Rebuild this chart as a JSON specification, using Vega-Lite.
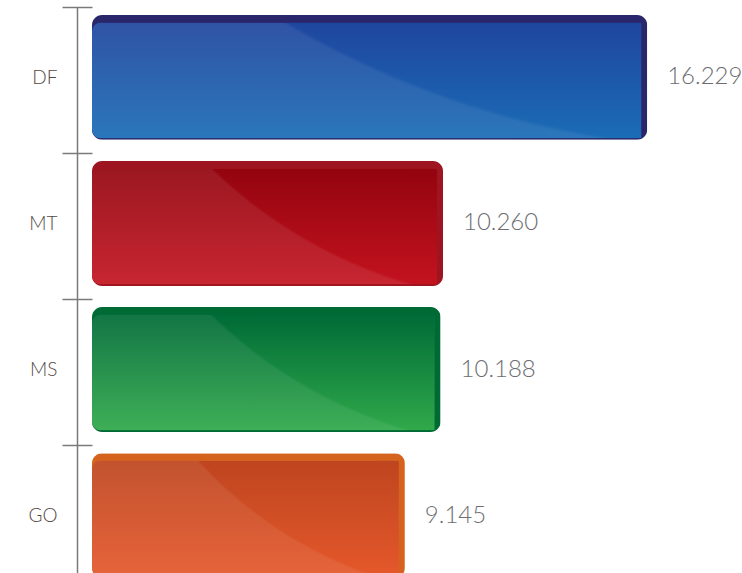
{
  "$schema": "https://vega.github.io/schema/vega-lite/v6.json",
  "width": 650,
  "height": 571,
  "autosize": {"type": "none"},
  "padding": {"left": 92, "top": 7, "right": 0, "bottom": 0},
  "background": "white",
  "config": {"view": {"stroke": null}},
  "data": {
    "values": [
      {"cat": "DF", "value": 16.229},
      {"cat": "MT", "value": 10.26},
      {"cat": "MS", "value": 10.188},
      {"cat": "GO", "value": 9.145}
    ]
  },
  "resolve": {"scale": {"y": "shared"}, "axis": {"y": "independent"}},
  "encoding": {
    "y": {
      "field": "cat",
      "type": "nominal",
      "sort": null,
      "title": null,
      "scale": {"paddingInner": 0.145, "paddingOuter": 0.0274, "align": 1},
      "axis": null
    },
    "x": {
      "field": "value",
      "type": "quantitative",
      "scale": {"domain": [0, 19]},
      "axis": null
    }
  },
  "layer": [
    {
      "mark": {"type": "bar", "cornerRadius": 10},
      "encoding": {
        "y": {
          "field": "cat", "type": "nominal", "sort": null, "title": null,
          "axis": {
            "orient": "left",
            "offset": 0,
            "domain": false,
            "bandPosition": 0,
            "tickOffset": -8,
            "labelOffset": 8,
            "tickSize": 30,
            "tickColor": "#7a7a7a",
            "tickWidth": 1.5,
            "labelPadding": 5,
            "labelFont": "Lato",
            "labelFontSize": 19,
            "labelFontWeight": 300,
            "labelColor": "#54473f"
          }
        },
        "color": {
          "field": "cat",
          "type": "nominal",
          "scale": {"domain": ["DF", "MT", "MS", "GO"], "range": ["#29266b", "#9e1420", "#006a35", "#d5631e"]},
          "legend": null
        }
      }
    },
    {
      "transform": [{"filter": "datum.cat === 'DF'"}],
      "mark": {"type": "bar", "cornerRadius": 9, "xOffset": -6, "x2Offset": 2, "height": 116, "yOffset": 3,
        "color": {"gradient": "linear", "x1": 0, "y1": 0, "x2": 0, "y2": 1,
          "stops": [{"offset": 0, "color": "#1f469f"}, {"offset": 1, "color": "#1b6cb6"}]}}
    },
    {
      "transform": [{"filter": "datum.cat === 'DF'"}],
      "mark": {"type": "bar", "cornerRadius": 9, "xOffset": -6, "x2Offset": 2, "height": 116, "yOffset": 3,
        "color": {"gradient": "radial", "x1": 1.196, "y1": -1.02, "r1": 0, "x2": 1.196, "y2": -1.02, "r2": 1.648,
          "stops": [
            {"offset": 0, "color": "rgba(255,255,255,0)"},
            {"offset": 0.996, "color": "rgba(255,255,255,0)"},
            {"offset": 1, "color": "rgba(255,255,255,0.07)"}
          ]}}
    },
    {
      "transform": [{"filter": "datum.cat === 'MT'"}],
      "mark": {"type": "bar", "cornerRadius": 9, "xOffset": -6, "x2Offset": 2, "height": 116, "yOffset": 3,
        "color": {"gradient": "linear", "x1": 0, "y1": 0, "x2": 0, "y2": 1,
          "stops": [{"offset": 0, "color": "#93040e"}, {"offset": 1, "color": "#c3131f"}]}}
    },
    {
      "transform": [{"filter": "datum.cat === 'MT'"}],
      "mark": {"type": "bar", "cornerRadius": 9, "xOffset": -6, "x2Offset": 2, "height": 116, "yOffset": 3,
        "color": {"gradient": "radial", "x1": 1.304, "y1": -0.639, "r1": 0, "x2": 1.304, "y2": -0.639, "r2": 1.361,
          "stops": [
            {"offset": 0, "color": "rgba(255,255,255,0)"},
            {"offset": 0.995, "color": "rgba(255,255,255,0)"},
            {"offset": 1, "color": "rgba(255,255,255,0.08)"}
          ]}}
    },
    {
      "transform": [{"filter": "datum.cat === 'MS'"}],
      "mark": {"type": "bar", "cornerRadius": 9, "xOffset": -6, "x2Offset": 2, "height": 116, "yOffset": 3,
        "color": {"gradient": "linear", "x1": 0, "y1": 0, "x2": 0, "y2": 1,
          "stops": [{"offset": 0, "color": "#006b37"}, {"offset": 1, "color": "#30a94a"}]}}
    },
    {
      "transform": [{"filter": "datum.cat === 'MS'"}],
      "mark": {"type": "bar", "cornerRadius": 9, "xOffset": -6, "x2Offset": 2, "height": 116, "yOffset": 3,
        "color": {"gradient": "radial", "x1": 1.307, "y1": -0.635, "r1": 0, "x2": 1.307, "y2": -0.635, "r2": 1.359,
          "stops": [
            {"offset": 0, "color": "rgba(255,255,255,0)"},
            {"offset": 0.995, "color": "rgba(255,255,255,0)"},
            {"offset": 1, "color": "rgba(255,255,255,0.07)"}
          ]}}
    },
    {
      "transform": [{"filter": "datum.cat === 'GO'"}],
      "mark": {"type": "bar", "cornerRadius": 9, "xOffset": -6, "x2Offset": 2, "height": 116, "yOffset": 3,
        "color": {"gradient": "linear", "x1": 0, "y1": 0, "x2": 0, "y2": 1,
          "stops": [{"offset": 0, "color": "#be451f"}, {"offset": 1, "color": "#e5582b"}]}}
    },
    {
      "transform": [{"filter": "datum.cat === 'GO'"}],
      "mark": {"type": "bar", "cornerRadius": 9, "xOffset": -6, "x2Offset": 2, "height": 116, "yOffset": 3,
        "color": {"gradient": "radial", "x1": 1.351, "y1": -0.585, "r1": 0, "x2": 1.351, "y2": -0.585, "r2": 1.343,
          "stops": [
            {"offset": 0, "color": "rgba(255,255,255,0)"},
            {"offset": 0.995, "color": "rgba(255,255,255,0)"},
            {"offset": 1, "color": "rgba(255,255,255,0.07)"}
          ]}}
    },
    {
      "mark": {"type": "text", "align": "left", "baseline": "middle", "dx": 20, "fontSize": 24, "font": "Lato", "fontWeight": 300, "color": "#6d6e71"},
      "encoding": {
        "y": {
          "field": "cat", "type": "nominal", "sort": null, "title": null,
          "axis": {
            "orient": "left",
            "offset": 15,
            "domain": true,
            "domainColor": "#7a7a7a",
            "domainWidth": 1.5,
            "ticks": false,
            "labels": false
          }
        },
        "text": {"field": "value", "type": "quantitative", "format": ".3f"}
      }
    }
  ]
}
